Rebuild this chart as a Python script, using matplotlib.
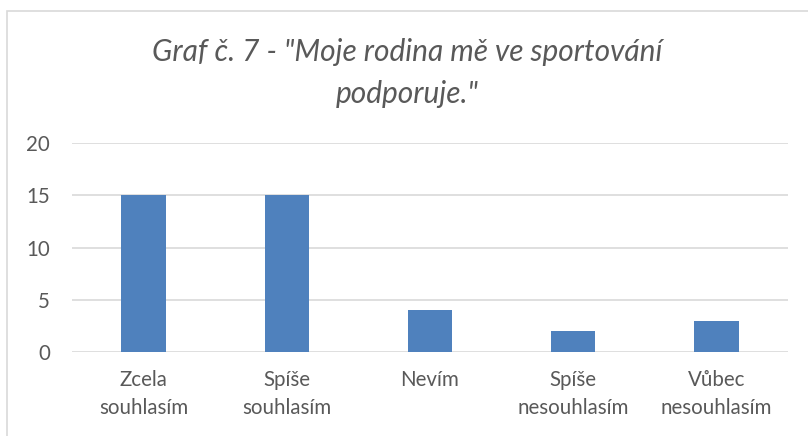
import numpy as np
import matplotlib.pyplot as plt
from matplotlib.patches import Rectangle

categories = ['Zcela\nsouhlasím', 'Spíše\nsouhlasím', 'Nevím', 'Spíše\nnesouhlasím', 'Vůbec\nnesouhlasím']
values = [15, 15, 4, 2, 3]
yticks = [0, 5, 10, 15, 20]

plt.rcParams['font.family'] = ['Lato', 'DejaVu Sans']
grey = '#595959'

fig = plt.figure(figsize=(8.08, 4.36), dpi=100)
ax = fig.add_axes([72/808, 1-352/436, 716/808, 209/436])

x = np.arange(len(categories))
ax.bar(x, values, width=0.31, color='#4F81BD', zorder=3)

ax.set_xlim(-0.5, len(categories)-0.5)
ax.set_ylim(0, 20)
ax.set_yticks(yticks)
ax.set_xticks(x)
ax.set_xticklabels(categories, fontsize=14.8, color=grey, linespacing=1.5)
ax.tick_params(axis='y', labelsize=14.8, labelcolor=grey, length=0, pad=16)
ax.tick_params(axis='x', length=0, pad=13)

ax.grid(axis='y', color='#D9D9D9', linewidth=1.2, zorder=0)
for s in ['top', 'right', 'left', 'bottom']:
    ax.spines[s].set_visible(False)

fig.text(407/808, 1-52/436, 'Graf č. 7 - "Moje rodina mě ve sportování',
         ha='center', va='center', fontsize=21.5, style='italic', color=grey)
fig.text(407/808, 1-94/436, 'podporuje."',
         ha='center', va='center', fontsize=21.5, style='italic', color=grey)

# chart frame (cropped at right and bottom)
fig.add_artist(Rectangle((7/808, -0.1), 1.2, 1-11/436+0.1, transform=fig.transFigure,
                         fill=False, edgecolor='#D9D9D9', linewidth=1.2))

plt.savefig('out.png', dpi=100)
